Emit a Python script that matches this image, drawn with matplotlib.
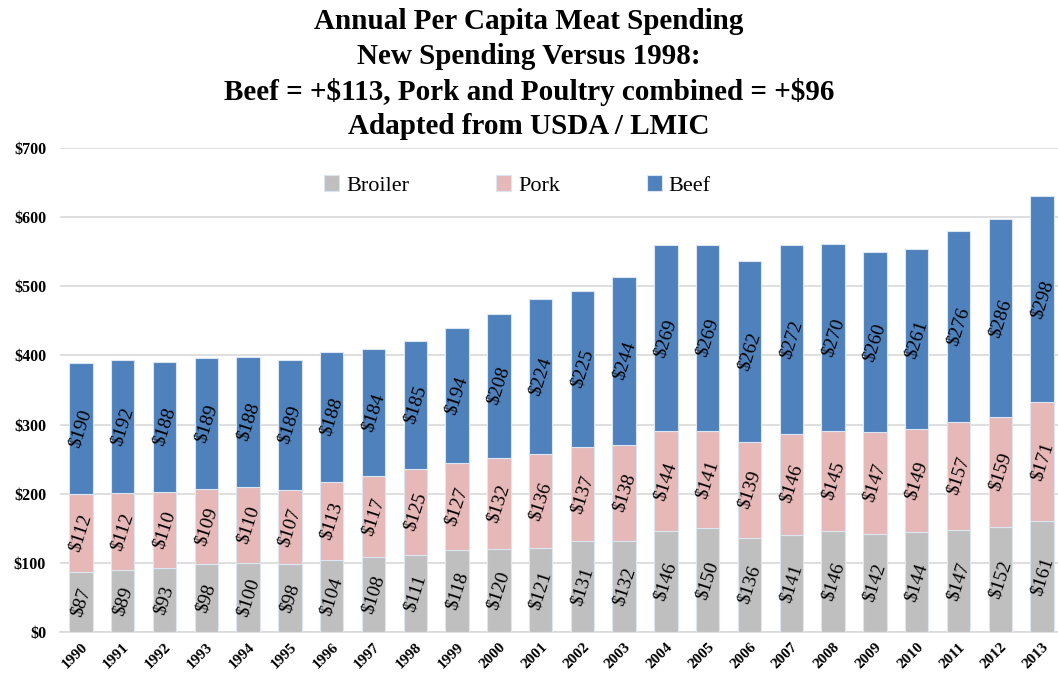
import matplotlib
matplotlib.use("Agg")
import matplotlib.pyplot as plt
import numpy as np

years = [str(y) for y in range(1990, 2014)]
broiler = [87, 89, 93, 98, 100, 98, 104, 108, 111, 118, 120, 121, 131, 132,
           146, 150, 136, 141, 146, 142, 144, 147, 152, 161]
pork = [112, 112, 110, 109, 110, 107, 113, 117, 125, 127, 132, 136, 137, 138,
        144, 141, 139, 146, 145, 147, 149, 157, 159, 171]
beef = [190, 192, 188, 189, 188, 189, 188, 184, 185, 194, 208, 224, 225, 244,
        269, 269, 262, 272, 270, 260, 261, 276, 286, 298]

series = [("Broiler", broiler, "#BFBFBF"),
          ("Pork", pork, "#E6B8B7"),
          ("Beef", beef, "#4F81BD")]

plt.rcParams["font.family"] = ["Liberation Serif", "DejaVu Serif"]

fig = plt.figure(figsize=(10.58, 6.79), dpi=100)
ax = fig.add_axes([60 / 1058, 47 / 679, 1003 / 1058, 484 / 679])

x = np.arange(len(years))
bottom = np.zeros(len(years))
for name, vals, color in series:
    vals = np.array(vals)
    ax.bar(x, vals, width=0.56, bottom=bottom, color=color, label=name,
           edgecolor="#DCE6F2", linewidth=0.8, zorder=3)
    for xi, b, v in zip(x, bottom, vals):
        ax.text(xi, b + v / 2, f"${v}", rotation=72, ha="center", va="center",
                fontsize=14, color="black", zorder=4, parse_math=False)
    bottom += vals

ax.set_xlim(-0.5, len(years) - 0.5)
ax.set_ylim(0, 700)
ax.set_yticks(range(0, 701, 100))
ax.set_yticklabels([f"${v}" for v in range(0, 701, 100)], fontsize=11.5,
                   fontweight="bold")
ax.set_xticks(x)
ax.set_xticklabels(years, rotation=45, ha="right", rotation_mode="anchor",
                   fontsize=11, fontweight="bold")
ax.grid(axis="y", color="#D9D9D9", linewidth=1.2, zorder=0)
ax.tick_params(axis="y", length=0, pad=10)
ax.tick_params(axis="x", length=0, pad=6)
for s in ["top", "right", "left"]:
    ax.spines[s].set_visible(False)
ax.spines["bottom"].set_color("#D9D9D9")
ax.spines["bottom"].set_linewidth(1.2)

ax.legend(loc="upper center", bbox_to_anchor=(0.456, 0.985), ncol=3, frameon=False,
          fontsize=16, handlelength=0.7, handleheight=0.7, columnspacing=3.9,
          handletextpad=0.3)

title = ("Annual Per Capita Meat Spending\nNew Spending Versus 1998:\n"
         "Beef = +$113, Pork and Poultry combined = +$96\nAdapted from USDA / LMIC")
fig.text(0.5, 0.988, title, ha="center", va="top", fontsize=21,
         fontweight="bold", linespacing=1.36, parse_math=False)

fig.savefig("out.png", dpi=100)
